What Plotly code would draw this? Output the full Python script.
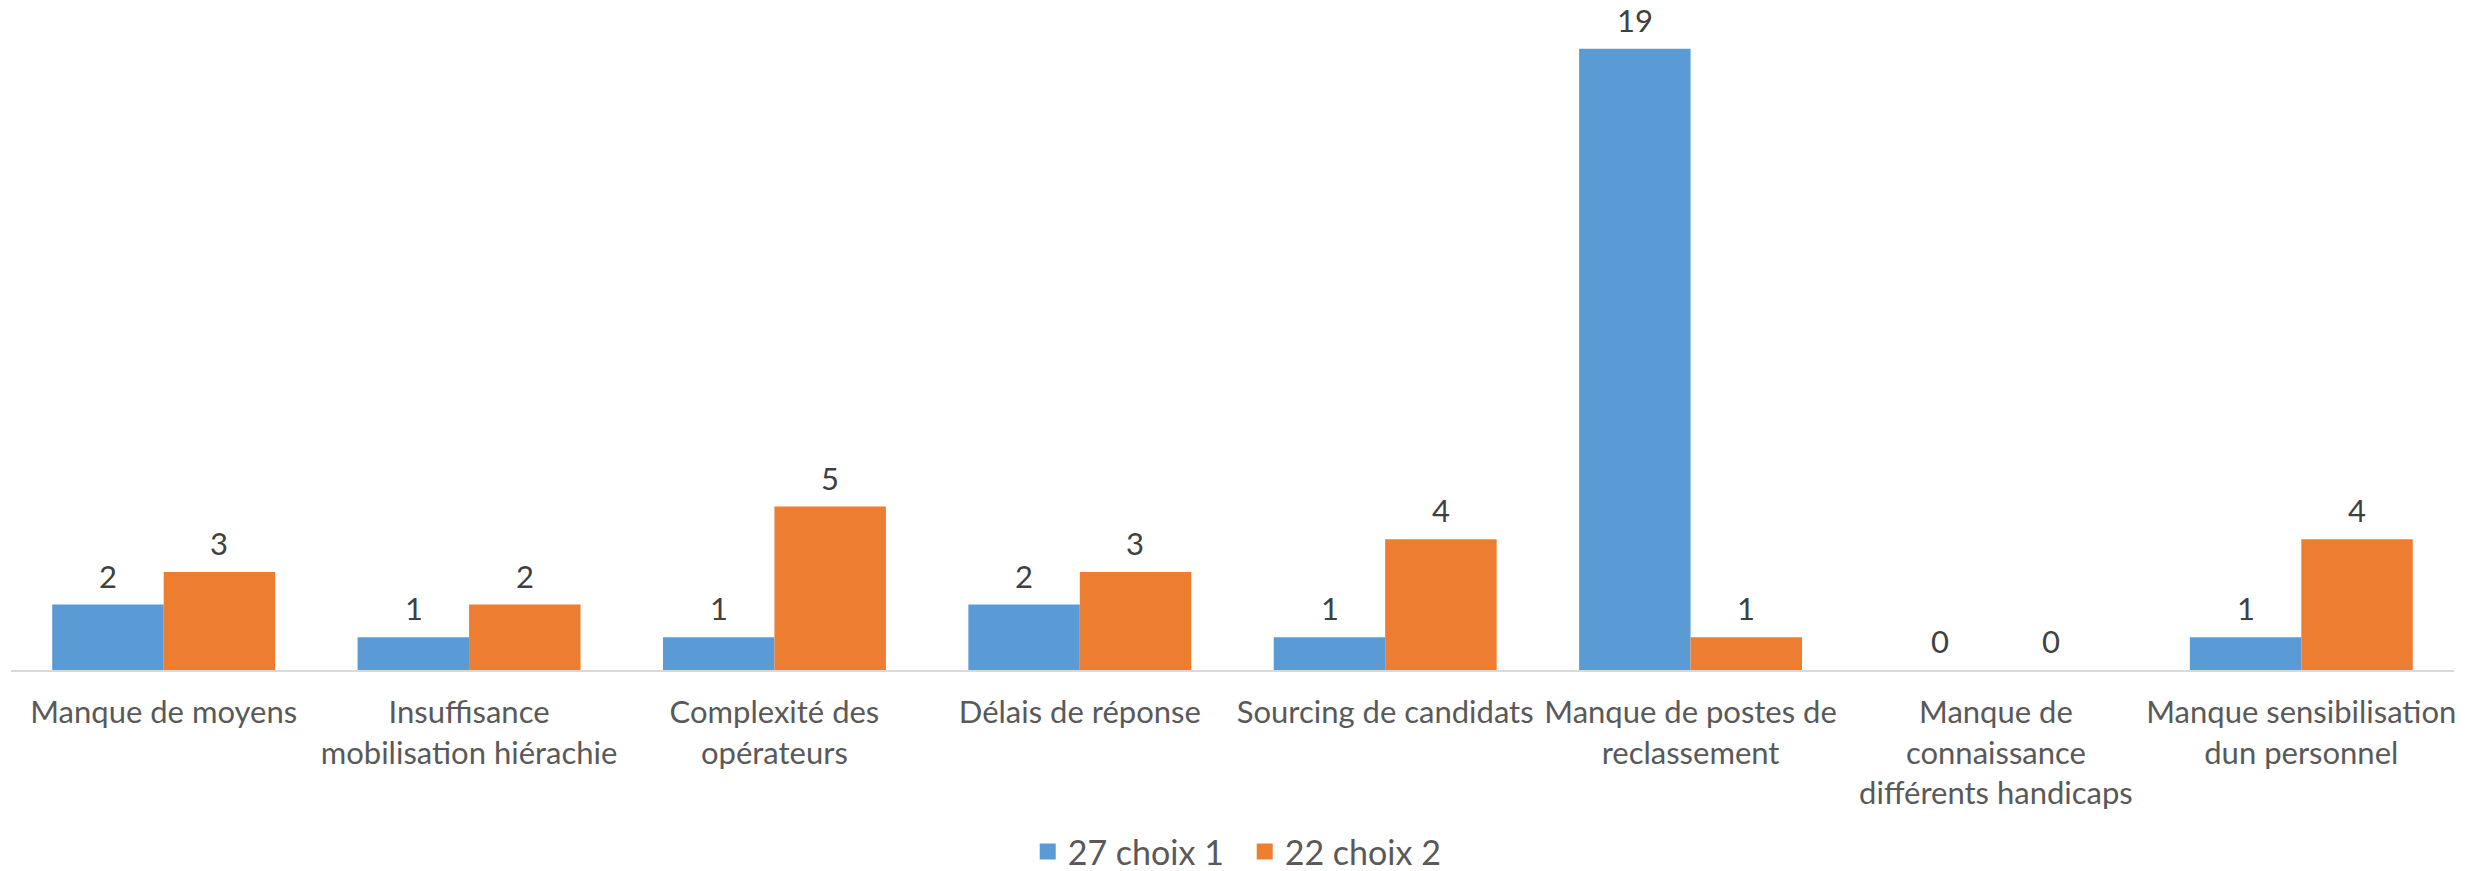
import plotly.graph_objects as go

categories = [
    "Manque de moyens",
    "Insuffisance<br>mobilisation hiérachie",
    "Complexité des<br>opérateurs",
    "Délais de réponse",
    "Sourcing de candidats",
    "Manque de postes de<br>reclassement",
    "Manque de<br>connaissance<br>différents handicaps",
    "Manque sensibilisation<br>dun personnel",
]
series1_name = "27 choix 1"
series1 = [2, 1, 1, 2, 1, 19, 0, 1]
series2_name = "22 choix 2"
series2 = [3, 2, 5, 3, 4, 1, 0, 4]

BLUE = "#5B9BD5"
ORANGE = "#ED7D31"
FONT = "Lato"
FS = 31

fig = go.Figure()
for name, vals, col, off in [(series1_name, series1, BLUE, "a"), (series2_name, series2, ORANGE, "b")]:
    fig.add_trace(go.Bar(x=categories, y=vals, name=name, showlegend=False,
                         offsetgroup=off,
                         marker=dict(color=col, line=dict(width=0))))
    # legend proxy
    fig.add_trace(go.Scatter(x=[None], y=[None], mode="markers", name=name,
                             marker=dict(symbol="square", size=22, color=col)))

# page body has an 8px margin: size figure so it fits the 2474x871 window
fig.update_layout(
    width=2466, height=863,
    paper_bgcolor="white", plot_bgcolor="white",
    margin=dict(l=3, r=20, t=8, b=201, autoexpand=False),
    barmode="group", bargap=0.27, bargroupgap=0,
    font=dict(family=FONT, size=FS, color="#595959"),
    showlegend=True,
    legend=dict(orientation="h", x=0.505, xanchor="center", y=-0.278, yanchor="middle",
                font=dict(size=34, color="#595959"), itemsizing="trace",
                itemwidth=30, tracegroupgap=0, entrywidth=172, entrywidthmode="pixels"),
    xaxis=dict(showline=True, linecolor="#D9D9D9", linewidth=2, ticks="",
               tickfont=dict(size=FS, color="#595959"), showgrid=False,
               automargin=False, ticklabelstandoff=14, tickangle=0),
    yaxis=dict(range=[0, 20], visible=False, showgrid=False, zeroline=False,
               automargin=False),
)

# data labels, placed via the axes from the data arrays
for vals, shift in [(series1, -0.5), (series2, 0.5)]:
    for i, v in enumerate(vals):
        fig.add_annotation(x=i, y=v, xref="x", yref="y", text=str(v),
                           showarrow=False, yanchor="bottom", yshift=8,
                           xshift=shift * 111,
                           font=dict(size=FS, color="#404040", family=FONT))

fig.write_html("out.html")
